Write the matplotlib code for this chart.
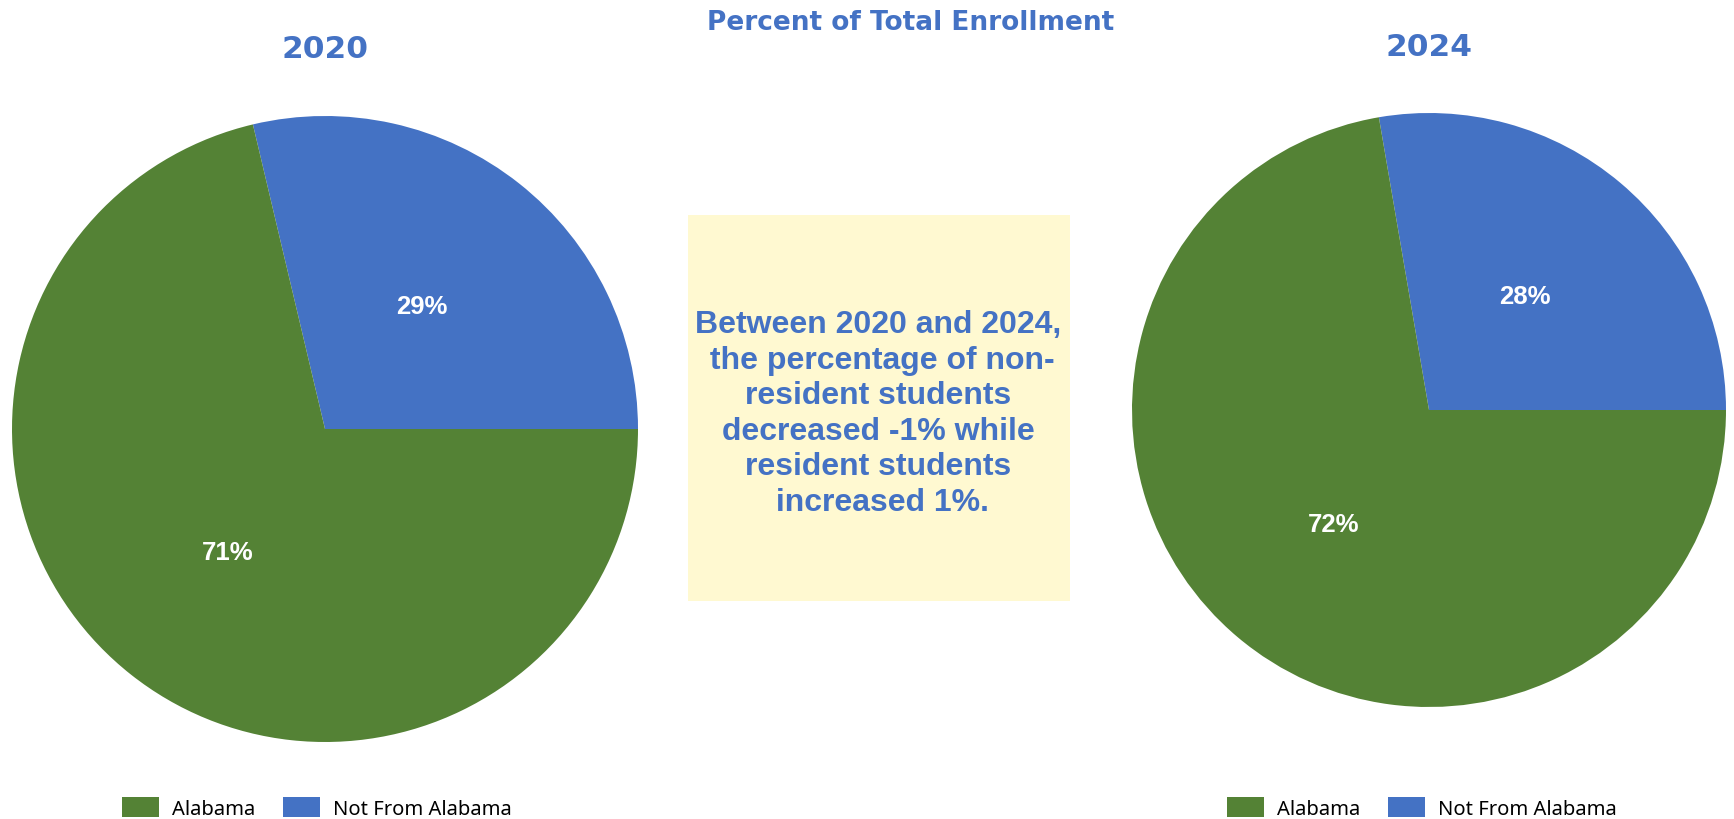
import matplotlib.pyplot as plt
from matplotlib.patches import Rectangle

W, H = 1734, 820

# data
categories = ['Not From Alabama', 'Alabama']
share_2020 = [28.7, 71.3]
share_2024 = [27.7, 72.3]
years = ['2020', '2024']
colors = ['#4472C4', '#548235']

title = 'Percent of Total Enrollment'
note = ('Between 2020 and 2024,\n the percentage of non-\nresident students\n'
        'decreased -1% while\nresident students\n increased 1%.')

blue = '#4472C4'


def fx(x):
    return x / W


def fy(y):
    # y measured from the top in pixels
    return 1 - y / H


fig = plt.figure(figsize=(W / 100, H / 100), dpi=100)


def draw_pie(cx, cy, r, values, year, leg_x):
    ax = fig.add_axes([fx(cx - r), fy(cy + r), 2 * r / W, 2 * r / H])
    wedges, _, autotexts = ax.pie(values, colors=colors, startangle=0,
                                  counterclock=True, autopct='%1.0f%%',
                                  pctdistance=0.5, radius=1,
                                  wedgeprops=dict(linewidth=0))
    for t in autotexts:
        t.set_color('white')
        t.set_fontsize(18.5)
        t.set_fontweight('bold')
        t.set_family('Liberation Sans')
    ax.set_xlim(-1, 1)
    ax.set_ylim(-1, 1)
    fig.text(fx(cx), fy(cy - r - 67), year, ha='center', va='center',
             fontsize=22.5, fontweight='bold', color=blue, family='DejaVu Sans')
    fig.legend([wedges[1], wedges[0]], [categories[1], categories[0]],
               loc='lower left', bbox_to_anchor=(fx(leg_x), 0.0),
               ncol=2, frameon=False, borderpad=0, borderaxespad=0,
               handlelength=1.85, handleheight=1.1, handletextpad=0.65,
               columnspacing=1.35,
               prop=dict(family='Noto Sans', size=14.5))


draw_pie(325, 430, 313, share_2020, years[0], 122)
draw_pie(1429, 411, 297, share_2024, years[1], 1227)

fig.text(fx(911), fy(23), title, ha='center', va='center', fontsize=19,
         fontweight='bold', color=blue, family='DejaVu Sans')

fig.patches.append(Rectangle((fx(688), fy(602)), (1070 - 688) / W, (602 - 216) / H,
                             transform=fig.transFigure, facecolor='#FFF9D1',
                             edgecolor='none', zorder=0))
fig.text(fx(878), fy(414), note, ha='center', va='center', fontsize=23,
         fontweight='bold', color=blue, family='Liberation Sans',
         linespacing=1.24)

fig.savefig('out.png', dpi=100)
